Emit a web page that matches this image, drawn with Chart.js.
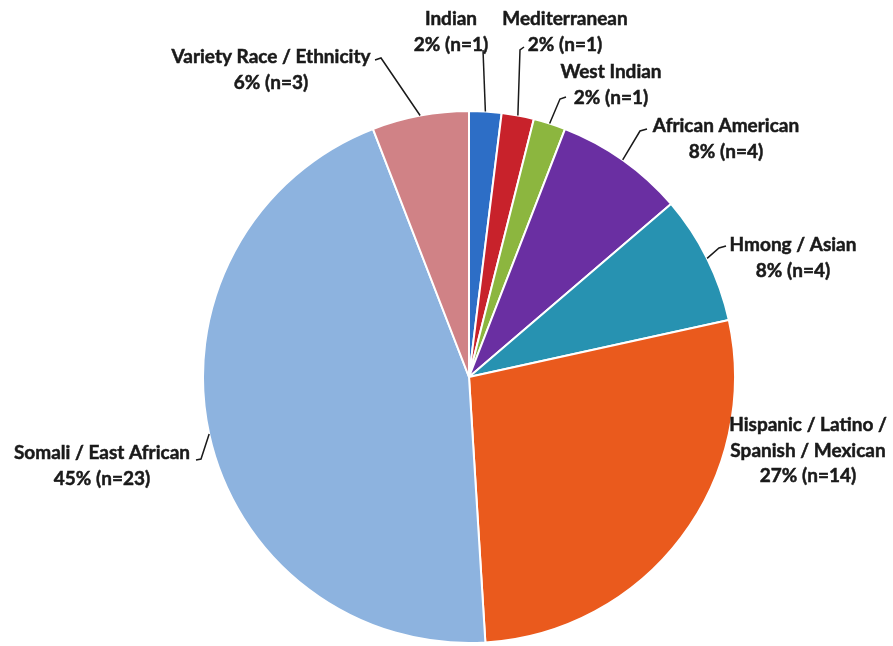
<!DOCTYPE html>
<html>
<head>
<meta charset="utf-8">
<script src="https://cdn.jsdelivr.net/npm/chart.js@4.4.1/dist/chart.umd.min.js"></script>
<style>
  html, body { margin: 0; padding: 0; background: #ffffff; }
  #wrap { width: 893px; height: 646px; position: relative; }
</style>
</head>
<body>
<div id="wrap"><canvas id="pie" width="893" height="646"></canvas></div>
<script>
// Survey respondents by race / ethnicity (n = 51)
const categories = [
  'Indian',
  'Mediterranean',
  'West Indian',
  'African American',
  'Hmong / Asian',
  'Hispanic / Latino / Spanish / Mexican',
  'Somali / East African',
  'Variety Race / Ethnicity'
];
const counts = [1, 1, 1, 4, 4, 14, 23, 3];
// How each category name is broken over lines in its callout
const nameLines = [
  ['Indian'],
  ['Mediterranean'],
  ['West Indian'],
  ['African American'],
  ['Hmong / Asian'],
  ['Hispanic / Latino /', 'Spanish / Mexican'],
  ['Somali / East African'],
  ['Variety Race / Ethnicity']
];
const sliceColors = [
  '#2d6ec6', '#c8222b', '#8cb63f', '#6a2fa2',
  '#2792b1', '#ea5a1d', '#8db3df', '#d08286'
];

const total = counts.reduce((a, b) => a + b, 0);

// Callout placement: text centre x, first-line y, elbow and stub end of the leader
const callouts = [
  { x: 451, y: 19,  elbow: [483, 50],  stub: [483, 50] },
  { x: 565, y: 19,  elbow: [520, 50],  stub: [524, 47] },
  { x: 611, y: 72,  elbow: [560, 99],  stub: [566, 97] },
  { x: 726, y: 126, elbow: [640, 131], stub: [647, 129] },
  { x: 793, y: 245, elbow: [719, 248], stub: [726, 246] },
  { x: 808, y: 425, elbow: null,       stub: null },
  { x: 102, y: 453, elbow: [201, 459], stub: [196, 460] },
  { x: 271, y: 57,  elbow: [381, 58],  stub: [375, 60] }
];

const calloutPlugin = {
  id: 'callouts',
  afterDatasetsDraw(chart) {
    const ctx = chart.ctx;
    const meta = chart.getDatasetMeta(0);
    ctx.save();
    ctx.font = 'bold 19px Lato, "Open Sans", sans-serif';
    ctx.fillStyle = '#1a1a1a';
    ctx.strokeStyle = '#1a1a1a';
    ctx.textAlign = 'center';
    ctx.textBaseline = 'middle';
    meta.data.forEach((arc, i) => {
      const c = callouts[i];
      const pct = Math.round(counts[i] / total * 100) + '% (n=' + counts[i] + ')';
      const lines = nameLines[i].concat([pct]);
      ctx.lineWidth = 0.5;
      lines.forEach((t, k) => {
        ctx.fillText(t, c.x, c.y + k * 25.5);
        ctx.strokeText(t, c.x, c.y + k * 25.5);
      });
      if (c.elbow) {
        const mid = (arc.startAngle + arc.endAngle) / 2;
        const r = arc.outerRadius;
        const ex = arc.x + Math.cos(mid) * r;
        const ey = arc.y + Math.sin(mid) * r;
        ctx.lineWidth = 1.5;
        ctx.beginPath();
        ctx.moveTo(ex, ey);
        ctx.lineTo(c.elbow[0], c.elbow[1]);
        ctx.lineTo(c.stub[0], c.stub[1]);
        ctx.stroke();
      }
    });
    ctx.restore();
  }
};

new Chart(document.getElementById('pie'), {
  type: 'pie',
  data: {
    labels: categories,
    datasets: [{
      data: counts,
      backgroundColor: sliceColors,
      borderColor: '#ffffff',
      borderWidth: 2
    }]
  },
  options: {
    responsive: false,
    animation: false,
    layout: { padding: { left: 202, right: 157, top: 110, bottom: 2 } },
    plugins: {
      legend: { display: false },
      tooltip: { enabled: false }
    }
  },
  plugins: [calloutPlugin]
});
</script>
</body>
</html>
